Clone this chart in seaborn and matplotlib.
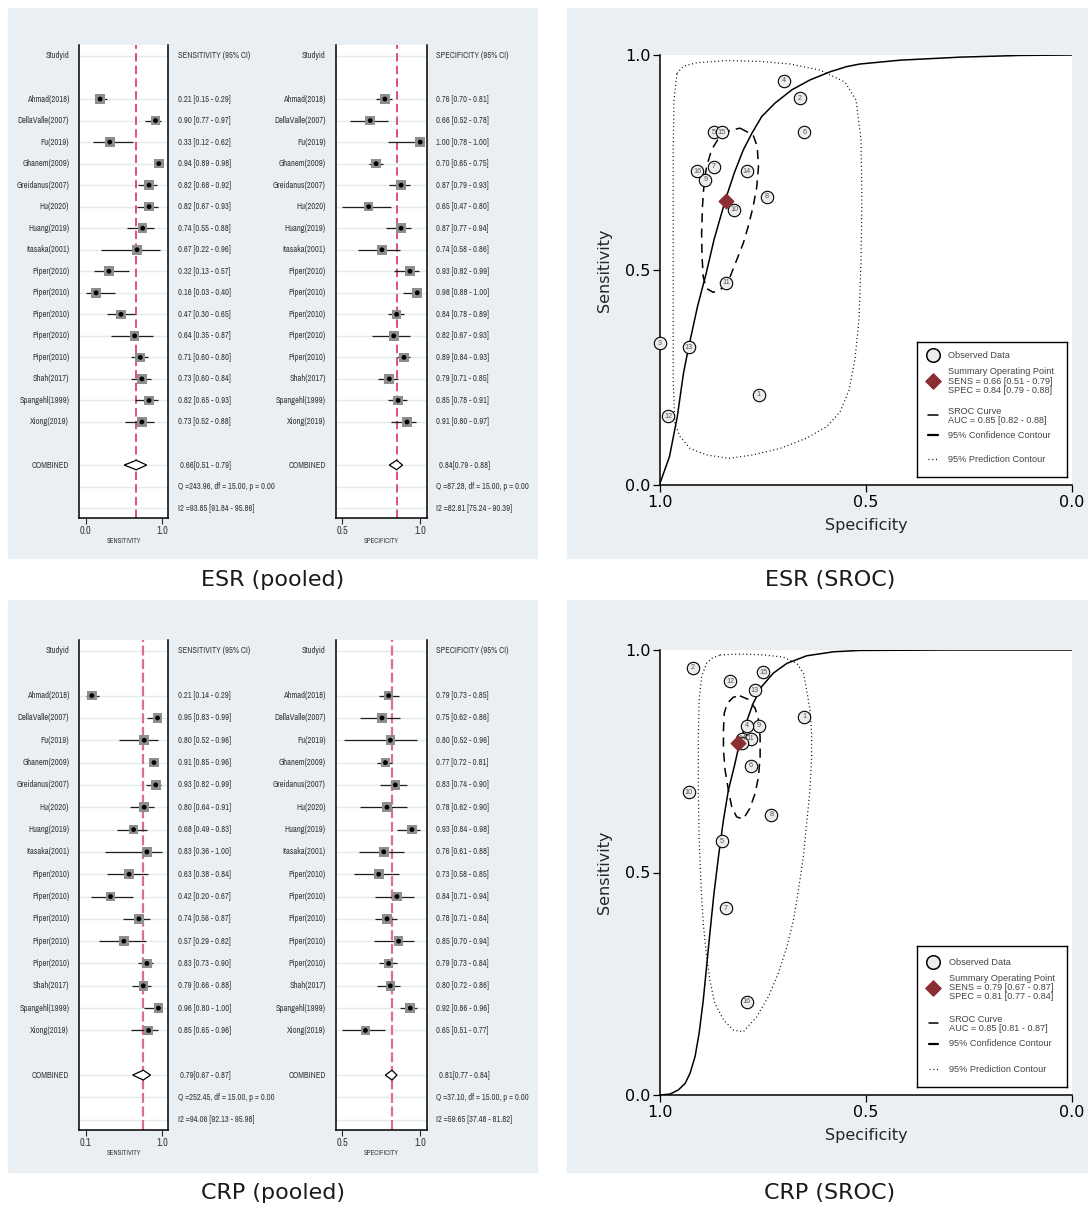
import numpy as np
import matplotlib.pyplot as plt
import matplotlib.font_manager as fm
import seaborn as sns
from matplotlib.patches import Rectangle, Polygon
from matplotlib.lines import Line2D

W, H = 1088, 1210

# ---------------------------------------------------------------------------
# data
# ---------------------------------------------------------------------------
studies = ["Ahmad(2018)", "DellaValle(2007)", "Fu(2019)", "Ghanem(2009)",
           "Greidanus(2007)", "Hu(2020)", "Huang(2019)", "Itasaka(2001)",
           "Piper(2010)", "Piper(2010)", "Piper(2010)", "Piper(2010)",
           "Piper(2010)", "Shah(2017)", "Spangehl(1999)", "Xiong(2019)"]

esr_sens = [0.21, 0.90, 0.33, 0.94, 0.82, 0.82, 0.74, 0.67, 0.32, 0.16, 0.47, 0.64, 0.71, 0.73, 0.82, 0.73]
esr_sens_lo = [0.15, 0.77, 0.12, 0.89, 0.68, 0.67, 0.55, 0.22, 0.13, 0.03, 0.30, 0.35, 0.60, 0.60, 0.65, 0.52]
esr_sens_hi = [0.29, 0.97, 0.62, 0.98, 0.92, 0.93, 0.88, 0.96, 0.57, 0.40, 0.65, 0.87, 0.80, 0.84, 0.93, 0.88]
esr_spec = [0.76, 0.66, 1.00, 0.70, 0.87, 0.65, 0.87, 0.74, 0.93, 0.98, 0.84, 0.82, 0.89, 0.79, 0.85, 0.91]
esr_spec_lo = [0.70, 0.52, 0.78, 0.65, 0.79, 0.47, 0.77, 0.58, 0.82, 0.88, 0.78, 0.67, 0.84, 0.71, 0.78, 0.80]
esr_spec_hi = [0.81, 0.78, 1.00, 0.75, 0.93, 0.80, 0.94, 0.86, 0.99, 1.00, 0.89, 0.93, 0.93, 0.85, 0.91, 0.97]
esr_pool_sens = (0.66, 0.51, 0.79)
esr_pool_spec = (0.84, 0.79, 0.88)
esr_sens_stats = ["Q =243.96, df = 15.00, p = 0.00", "I2 =93.85 [91.84 - 95.86]"]
esr_spec_stats = ["Q =87.28, df = 15.00, p = 0.00", "I2 =82.81 [75.24 - 90.39]"]
esr_auc = "AUC = 0.85 [0.82 - 0.88]"
esr_ids = [1, 2, 3, 4, 5, 6, 7, 8, 13, 12, 11, 10, 9, 14, 15, 16]

crp_sens = [0.21, 0.95, 0.80, 0.91, 0.93, 0.80, 0.68, 0.83, 0.63, 0.42, 0.74, 0.57, 0.83, 0.79, 0.96, 0.85]
crp_sens_lo = [0.14, 0.83, 0.52, 0.85, 0.82, 0.64, 0.49, 0.36, 0.38, 0.20, 0.56, 0.29, 0.73, 0.66, 0.80, 0.65]
crp_sens_hi = [0.29, 0.99, 0.96, 0.96, 0.99, 0.91, 0.83, 1.00, 0.84, 0.67, 0.87, 0.82, 0.90, 0.88, 1.00, 0.96]
crp_spec = [0.79, 0.75, 0.80, 0.77, 0.83, 0.78, 0.93, 0.76, 0.73, 0.84, 0.78, 0.85, 0.79, 0.80, 0.92, 0.65]
crp_spec_lo = [0.73, 0.62, 0.52, 0.72, 0.74, 0.62, 0.84, 0.61, 0.58, 0.71, 0.71, 0.70, 0.73, 0.72, 0.86, 0.51]
crp_spec_hi = [0.85, 0.86, 0.96, 0.81, 0.90, 0.90, 0.98, 0.88, 0.85, 0.94, 0.84, 0.94, 0.84, 0.86, 0.96, 0.77]
crp_pool_sens = (0.79, 0.67, 0.87)
crp_pool_spec = (0.81, 0.77, 0.84)
crp_sens_stats = ["Q =252.45, df = 15.00, p = 0.00", "I2 =94.06 [92.13 - 95.98]"]
crp_spec_stats = ["Q =37.10, df = 15.00, p = 0.00", "I2 =59.65 [37.48 - 81.82]"]
crp_auc = "AUC = 0.85 [0.81 - 0.87]"
crp_ids = [16, 15, 14, 13, 12, 11, 10, 9, 8, 7, 6, 5, 4, 3, 2, 1]

# SROC curve and contours (specificity, sensitivity)
esr_curve_spec = [1.000, 0.977, 0.958, 0.943, 0.931, 0.909, 0.888, 0.869, 0.841, 0.820, 0.798, 0.777, 0.753,
                  0.721, 0.680, 0.636, 0.587, 0.547, 0.515, 0.417, 0.272, 0.126, 0.000]
esr_curve_sens = [0.004, 0.066, 0.159, 0.260, 0.318, 0.415, 0.492, 0.570, 0.664, 0.725, 0.779, 0.818, 0.857,
                  0.888, 0.919, 0.942, 0.961, 0.973, 0.979, 0.988, 0.995, 0.999, 1.000]
esr_conf_spec = [0.806, 0.774, 0.764, 0.761, 0.765, 0.774, 0.786, 0.798, 0.814, 0.830, 0.850, 0.871, 0.887,
                 0.895, 0.898, 0.899, 0.897, 0.893, 0.887, 0.875, 0.858, 0.838]
esr_conf_sens = [0.830, 0.814, 0.787, 0.740, 0.694, 0.647, 0.601, 0.562, 0.523, 0.484, 0.457, 0.448, 0.457,
                 0.484, 0.531, 0.585, 0.647, 0.702, 0.740, 0.779, 0.806, 0.822]
esr_pred_spec = [0.959, 0.943, 0.911, 0.838, 0.757, 0.684, 0.612, 0.551, 0.524, 0.512, 0.510, 0.512, 0.517,
                 0.527, 0.541, 0.563, 0.595, 0.644, 0.709, 0.774, 0.834, 0.887, 0.927, 0.951, 0.964, 0.968,
                 0.968, 0.968, 0.968, 0.966]
esr_pred_sens = [0.957, 0.974, 0.982, 0.987, 0.985, 0.979, 0.965, 0.937, 0.895, 0.802, 0.663, 0.523, 0.384,
                 0.291, 0.221, 0.170, 0.136, 0.109, 0.085, 0.070, 0.062, 0.070, 0.085, 0.112, 0.143, 0.244,
                 0.430, 0.616, 0.779, 0.895]

crp_curve_spec = [1.000, 0.976, 0.956, 0.939, 0.927, 0.915, 0.905, 0.895, 0.887, 0.879, 0.869, 0.858, 0.846,
                  0.834, 0.818, 0.808, 0.794, 0.774, 0.753, 0.725, 0.692, 0.644, 0.579, 0.515, 0.300, 0.000]
crp_curve_sens = [0.000, 0.002, 0.011, 0.026, 0.049, 0.086, 0.139, 0.213, 0.288, 0.363, 0.453, 0.536, 0.618,
                  0.685, 0.745, 0.787, 0.828, 0.880, 0.918, 0.948, 0.970, 0.987, 0.996, 0.999, 1.000, 1.000]
crp_conf_spec = [0.806, 0.786, 0.769, 0.761, 0.757, 0.757, 0.761, 0.769, 0.782, 0.798, 0.814, 0.826, 0.834,
                 0.842, 0.846, 0.846, 0.844, 0.837, 0.822]
crp_conf_sens = [0.897, 0.889, 0.869, 0.843, 0.805, 0.760, 0.715, 0.678, 0.644, 0.620, 0.625, 0.648, 0.685,
                 0.730, 0.775, 0.820, 0.858, 0.880, 0.894]
crp_pred_spec = [0.854, 0.806, 0.749, 0.701, 0.668, 0.652, 0.644, 0.636, 0.632, 0.632, 0.636, 0.644, 0.652,
                 0.664, 0.676, 0.692, 0.713, 0.737, 0.765, 0.798, 0.822, 0.846, 0.867, 0.879, 0.887, 0.895,
                 0.900, 0.905, 0.907, 0.907, 0.905, 0.899, 0.887, 0.875]
crp_pred_sens = [0.989, 0.991, 0.989, 0.984, 0.970, 0.948, 0.910, 0.865, 0.813, 0.760, 0.685, 0.611, 0.536,
                 0.461, 0.393, 0.333, 0.273, 0.221, 0.176, 0.142, 0.146, 0.169, 0.206, 0.258, 0.311, 0.386,
                 0.461, 0.573, 0.685, 0.798, 0.888, 0.940, 0.970, 0.981]

captions = ["ESR (pooled)", "ESR (SROC)", "CRP (pooled)", "CRP (SROC)"]

# ---------------------------------------------------------------------------
# style
# ---------------------------------------------------------------------------
sns.set_style("white")
plt.rcParams["font.family"] = ["DejaVu Sans"]
installed = {f.name for f in fm.fontManager.ttflist}
if "Archivo Narrow" in installed:
    NARROW, FS_FOREST = ["Archivo Narrow", "Liberation Sans"], 6.1
else:
    NARROW, FS_FOREST = ["Liberation Sans", "DejaVu Sans"], 5.3
LEGFONT = ["Liberation Sans", "DejaVu Sans"]
TXT = "#3a3a3a"
PANEL = "#e9eff2"
GRID = "#e4ebef"

fig = plt.figure(figsize=(W / 100, H / 100), dpi=100)


def fbox(x0, y0, x1, y1):
    return [x0 / W, 1 - y1 / H, (x1 - x0) / W, (y1 - y0) / H]


for x0, y0, x1, y1 in [(8, 8, 537, 558), (567, 8, 1088, 558), (8, 600, 537, 1172), (567, 600, 1088, 1172)]:
    fig.add_artist(Rectangle((x0 / W, 1 - y1 / H), (x1 - x0) / W, (y1 - y0) / H,
                             transform=fig.transFigure, color=PANEL, zorder=0))


def forest(box, est, lo, hi, pooled, stats, header, xlabel, red, red_lw, red_dash):
    ax = fig.add_axes(fbox(*box))
    n = len(est)
    rows = np.arange(n) + 2
    r = max(hi) - min(lo)
    ax.set_xlim(min(lo) - 0.083 * r, max(hi) + 0.083 * r)
    ax.set_ylim(21.46, -0.51)
    for y in [0, *rows, n + 3, n + 4, n + 5]:
        ax.axhline(y, color=GRID, lw=1.0, zorder=0)
    ax.hlines(rows, lo, hi, color="#1e1e1e", lw=0.9, zorder=2)
    sns.scatterplot(x=est, y=rows, marker="s", s=48, color="#8e8e8e", edgecolor="none", ax=ax, zorder=3)
    sns.scatterplot(x=est, y=rows, marker="o", s=12, color="black", edgecolor="none", ax=ax, zorder=4)
    p, plo, phi = pooled
    yc = n + 3
    ax.add_patch(Polygon([[plo, yc], [p, yc - 0.22], [phi, yc], [p, yc + 0.22]], closed=True,
                         facecolor="white", edgecolor="black", lw=0.9, zorder=4))
    ax.axvline(p, color=red, ls=(0, red_dash), lw=red_lw, zorder=1)

    ytr = ax.get_yaxis_transform()
    kw = dict(xycoords=ytr, textcoords="offset points", va="center", fontsize=FS_FOREST,
              family=NARROW, color=TXT)
    ax.annotate("Studyid", xy=(0, 0), xytext=(-7.2, 0), ha="right", **kw)
    ax.annotate(header, xy=(1, 0), xytext=(6.8, 0), ha="left", **kw)
    for i, row in enumerate(rows):
        ax.annotate(studies[i], xy=(0, row), xytext=(-7.2, 0), ha="right", **kw)
        ax.annotate(f"{est[i]:.2f} [{lo[i]:.2f} - {hi[i]:.2f}]", xy=(1, row), xytext=(6.8, 0), ha="left", **kw)
    ax.annotate("COMBINED", xy=(0, yc), xytext=(-7.2, 0), ha="right", **kw)
    ax.annotate(f"{p:.2f}[{plo:.2f} - {phi:.2f}]", xy=(1, yc), xytext=(8.5, 0), ha="left", **kw)
    ax.annotate(stats[0], xy=(1, yc + 1), xytext=(6.8, 0), ha="left", **kw)
    ax.annotate(stats[1], xy=(1, yc + 2), xytext=(6.8, 0), ha="left", **kw)

    ax.set_xticks([min(lo), max(hi)], labels=[f"{min(lo):.1f}", f"{max(hi):.1f}"])
    ax.set_yticks([])
    ax.tick_params(axis="x", length=4, width=0.8, pad=2, labelsize=7.5, labelcolor=TXT, bottom=True)
    for lab in ax.get_xticklabels():
        lab.set_family(NARROW)
    ax.set_xlabel(xlabel, fontsize=5, family=NARROW, color=TXT, labelpad=1)
    ax.spines["top"].set_visible(False)
    for s in ["left", "right", "bottom"]:
        ax.spines[s].set_linewidth(1.1)
        ax.spines[s].set_color("black")
    return ax


def sroc(box, sens, spec, ids, pooled_sens, pooled_spec, cs, cy, fs, fy, ps, py, legbox, legrows, auc):
    ax = fig.add_axes(fbox(*box))
    ax.set_xlim(1, 0)
    ax.set_ylim(0, 1)
    ax.set_facecolor("white")
    sns.lineplot(x=cs, y=cy, sort=False, estimator=None, color="black", lw=1.1, ax=ax)
    sns.lineplot(x=fs + fs[:1], y=fy + fy[:1], sort=False, estimator=None, color="black", lw=1.1,
                 linestyle=(0, (6, 4)), ax=ax)
    sns.lineplot(x=ps + ps[:1], y=py + py[:1], sort=False, estimator=None, color="black", lw=0.9,
                 linestyle=(0, (0.8, 2.2)), ax=ax)
    ax.scatter(spec, sens, s=80, facecolor="#ececec", edgecolor="black", lw=0.8, zorder=5, clip_on=False)
    for sp, se, k in zip(spec, sens, ids):
        ax.text(sp, se, str(k), fontsize=5.2, ha="center", va="center", color="#555555", zorder=6,
                family=LEGFONT)
    ax.scatter([pooled_spec[0]], [pooled_sens[0]], marker="D", s=55, color="#8b2e34", zorder=7)

    ax.set_xticks([1.0, 0.5, 0.0], labels=["1.0", "0.5", "0.0"])
    ax.set_yticks([0.0, 0.5, 1.0], labels=["0.0", "0.5", "1.0"])
    ax.tick_params(length=5, width=0.9, labelsize=11.5, pad=2, left=True, bottom=True, colors="black")
    ax.set_xlabel("Specificity", fontsize=11.5, labelpad=6)
    ax.set_ylabel("Sensitivity", fontsize=11.5, labelpad=9)
    ax.spines["top"].set_visible(False)
    ax.spines["right"].set_visible(False)
    for s in ["left", "bottom"]:
        ax.spines[s].set_linewidth(1.1)
        ax.spines[s].set_color("black")

    lg = fig.add_axes(fbox(*legbox))
    lw_, lh_ = legbox[2] - legbox[0], legbox[3] - legbox[1]
    lg.set_xlim(0, lw_)
    lg.set_ylim(lh_, 0)
    lg.set_xticks([])
    lg.set_yticks([])
    lg.set_facecolor("white")
    for s in lg.spines.values():
        s.set_linewidth(1.0)
        s.set_color("black")
    ltxt = dict(fontsize=6.6, family=LEGFONT, color="#444444", va="center", ha="left")
    y_obs, y_sum, y_sroc, y_conf, y_pred = legrows
    lg.scatter([16], [y_obs], s=95, facecolor="#ececec", edgecolor="black", lw=1.1)
    lg.text(31.6, y_obs, "Observed Data", **ltxt)
    lg.scatter([16], [y_sum], marker="D", s=60, color="#8b2e34")
    lg.text(31.6, y_sum - 9.2, "Summary Operating Point", **ltxt)
    lg.text(31.6, y_sum, f"SENS = {pooled_sens[0]:.2f} [{pooled_sens[1]:.2f} - {pooled_sens[2]:.2f}]", **ltxt)
    lg.text(31.6, y_sum + 9.2, f"SPEC = {pooled_spec[0]:.2f} [{pooled_spec[1]:.2f} - {pooled_spec[2]:.2f}]", **ltxt)
    lg.add_line(Line2D([11.6, 21], [y_sroc + 4, y_sroc + 4], color="black", lw=1.1))
    lg.text(31.6, y_sroc, "SROC Curve", **ltxt)
    lg.text(31.6, y_sroc + 9.2, auc, **ltxt)
    lg.add_line(Line2D([11.6, 21], [y_conf, y_conf], color="black", lw=1.6))
    lg.text(31.6, y_conf, "95% Confidence Contour", **ltxt)
    lg.add_line(Line2D([11.6, 21], [y_pred, y_pred], color="black", lw=0.9, linestyle=(0, (0.8, 2.2))))
    lg.text(31.6, y_pred, "95% Prediction Contour", **ltxt)
    return ax


forest((79.3, 45, 168.3, 518), esr_sens, esr_sens_lo, esr_sens_hi, esr_pool_sens, esr_sens_stats,
       "SENSITIVITY (95% CI)", "SENSITIVITY", "#d6214f", 1.1, (5.5, 2.8))
forest((335.7, 45, 426.7, 518), esr_spec, esr_spec_lo, esr_spec_hi, esr_pool_spec, esr_spec_stats,
       "SPECIFICITY (95% CI)", "SPECIFICITY", "#d6214f", 1.1, (5.5, 2.8))
forest((79.3, 639.6, 168.3, 1130), crp_sens, crp_sens_lo, crp_sens_hi, crp_pool_sens, crp_sens_stats,
       "SENSITIVITY (95% CI)", "SENSITIVITY", "#dc6f8f", 1.6, (4.5, 1.6))
forest((335.7, 639.6, 426.7, 1130), crp_spec, crp_spec_lo, crp_spec_hi, crp_pool_spec, crp_spec_stats,
       "SPECIFICITY (95% CI)", "SPECIFICITY", "#dc6f8f", 1.6, (4.5, 1.6))

sroc((660, 55, 1072, 485), esr_sens, esr_spec, esr_ids, esr_pool_sens, esr_pool_spec,
     esr_curve_spec, esr_curve_sens, esr_conf_spec, esr_conf_sens, esr_pred_spec, esr_pred_sens,
     (916.7, 341.7, 1066.7, 476.7), (13.3, 39.4, 69.3, 93.3, 117.6), esr_auc)
sroc((660, 650, 1072, 1095), crp_sens, crp_spec, crp_ids, crp_pool_sens, crp_pool_spec,
     crp_curve_spec, crp_curve_sens, crp_conf_spec, crp_conf_sens, crp_pred_spec, crp_pred_sens,
     (917.3, 945.7, 1066.7, 1086.7), (16.6, 42.0, 73.3, 98.3, 123.6), crp_auc)

for cap, (x, y) in zip(captions, [(273, 580), (830, 580), (273, 1193), (830, 1193)]):
    fig.text(x / W, 1 - y / H, cap, ha="center", va="center", fontsize=16, color="#1a1a1a")

fig.savefig("out.png", dpi=100)
